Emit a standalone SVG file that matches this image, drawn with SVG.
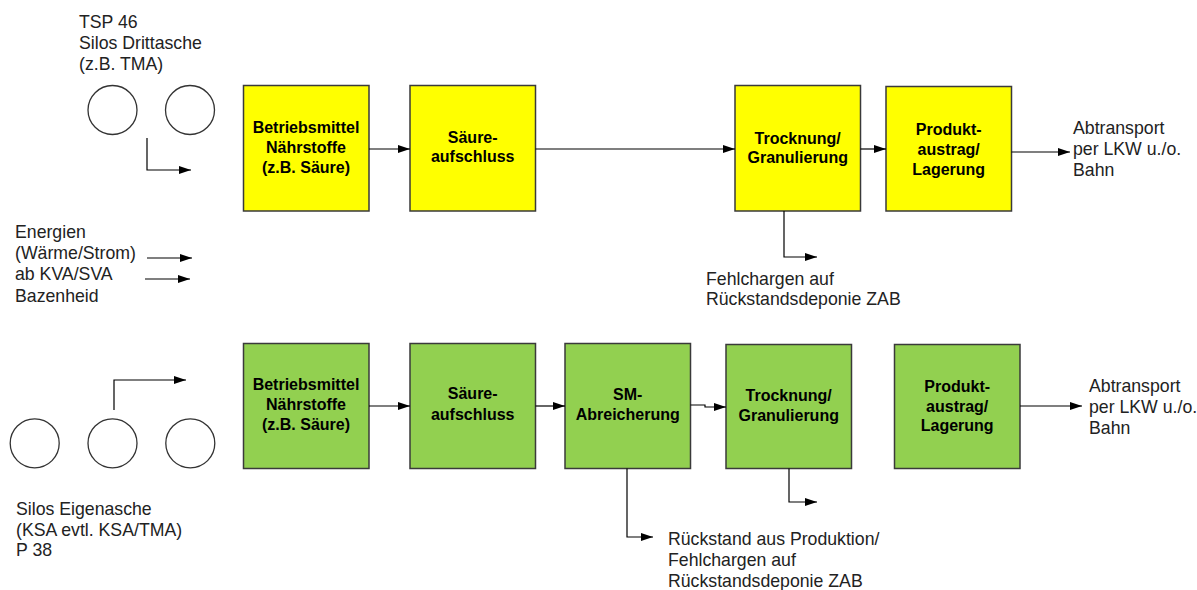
<svg xmlns="http://www.w3.org/2000/svg" width="1197" height="590" viewBox="0 0 1197 590">
<defs>
<marker id="ah" markerUnits="userSpaceOnUse" markerWidth="13" markerHeight="9" refX="12" refY="4" orient="auto">
<path d="M0,0 L12,4 L0,8 z" fill="#000"/>
</marker>
<style>
.y{fill:#FFFF00;stroke:#3a3a3a;stroke-width:1.5}
.g{fill:#92D050;stroke:#3a3a3a;stroke-width:1.5}
.c{fill:#fff;stroke:#333;stroke-width:1.3}
.b{font-family:"Liberation Sans",Arial,sans-serif;font-weight:bold;font-size:16px;fill:#000;text-anchor:middle}
.t{font-family:"Liberation Sans",Arial,sans-serif;font-size:17.7px;fill:#222}
.ln{fill:none;stroke:#000;stroke-width:1.2;marker-end:url(#ah)}
</style>
</defs>
<rect width="1197" height="590" fill="#fff"/>

<g id="silos-top">
<circle class="c" cx="112.5" cy="110" r="24.5"/>
<circle class="c" cx="190" cy="110" r="24.5"/>
<text class="t"><tspan x="79" y="28">TSP 46</tspan><tspan x="79" y="49">Silos Drittasche</tspan><tspan x="79" y="70">(z.B. TMA)</tspan></text>
</g>

<g id="energien">
<text class="t"><tspan x="15" y="237.5">Energien</tspan><tspan x="15" y="259">(Wärme/Strom)</tspan><tspan x="15" y="280">ab KVA/SVA</tspan><tspan x="15" y="301.5">Bazenheid</tspan></text>
</g>

<g id="top-betrieb"><rect class="y" x="243.5" y="85.5" width="125.5" height="125.5"/>
<text class="b"><tspan x="306" y="133">Betriebsmittel</tspan><tspan x="306" y="153">Nährstoffe</tspan><tspan x="306" y="173">(z.B. Säure)</tspan></text></g>

<g id="top-saeure"><rect class="y" x="410" y="85.5" width="125.5" height="125.5"/>
<text class="b"><tspan x="472.7" y="142.5">Säure-</tspan><tspan x="472.7" y="162">aufschluss</tspan></text></g>

<g id="top-trocknung"><rect class="y" x="735" y="85.5" width="125.5" height="125.5"/>
<text class="b"><tspan x="797.7" y="143.5">Trocknung/</tspan><tspan x="797.7" y="163">Granulierung</tspan></text></g>

<g id="top-produkt"><rect class="y" x="886" y="86.5" width="125.5" height="124.5"/>
<text class="b"><tspan x="948.7" y="134.5">Produkt-</tspan><tspan x="948.7" y="154.5">austrag/</tspan><tspan x="948.7" y="174.5">Lagerung</tspan></text></g>

<g id="top-abtransport">
<text class="t"><tspan x="1073" y="134">Abtransport</tspan><tspan x="1073" y="155">per LKW u./o.</tspan><tspan x="1073" y="176">Bahn</tspan></text>
</g>

<g id="top-fehl">
<text class="t"><tspan x="706" y="284.5">Fehlchargen auf</tspan><tspan x="706" y="305">Rückstandsdeponie ZAB</tspan></text>
</g>

<g id="silos-bottom">
<circle class="c" cx="34.7" cy="443.3" r="24.5"/>
<circle class="c" cx="112.5" cy="443.3" r="24.5"/>
<circle class="c" cx="190.3" cy="443.3" r="24.5"/>
<text class="t"><tspan x="16" y="514.5">Silos Eigenasche</tspan><tspan x="16" y="535.5">(KSA evtl. KSA/TMA)</tspan><tspan x="16" y="556">P 38</tspan></text>
</g>

<g id="bot-betrieb"><rect class="g" x="243.5" y="343.5" width="125.5" height="125"/>
<text class="b"><tspan x="306" y="390">Betriebsmittel</tspan><tspan x="306" y="410">Nährstoffe</tspan><tspan x="306" y="430">(z.B. Säure)</tspan></text></g>

<g id="bot-saeure"><rect class="g" x="410" y="343.5" width="125.5" height="125"/>
<text class="b"><tspan x="472.7" y="398.5">Säure-</tspan><tspan x="472.7" y="420">aufschluss</tspan></text></g>

<g id="bot-sm"><rect class="g" x="565" y="343.5" width="125.5" height="125"/>
<text class="b"><tspan x="627.7" y="399.5">SM-</tspan><tspan x="627.7" y="420">Abreicherung</tspan></text></g>

<g id="bot-trocknung"><rect class="g" x="726" y="344.5" width="125.5" height="124"/>
<text class="b"><tspan x="788.7" y="401">Trocknung/</tspan><tspan x="788.7" y="421">Granulierung</tspan></text></g>

<g id="bot-produkt"><rect class="g" x="894.5" y="344.5" width="125.5" height="124"/>
<text class="b"><tspan x="957.2" y="392">Produkt-</tspan><tspan x="957.2" y="412">austrag/</tspan><tspan x="957.2" y="431">Lagerung</tspan></text></g>

<g id="bot-abtransport">
<text class="t"><tspan x="1089" y="391.5">Abtransport</tspan><tspan x="1089" y="412.5">per LKW u./o.</tspan><tspan x="1089" y="433.5">Bahn</tspan></text>
</g>

<g id="bot-rueckstand">
<text class="t"><tspan x="668" y="545">Rückstand aus Produktion/</tspan><tspan x="668" y="566">Fehlchargen auf</tspan><tspan x="668" y="587">Rückstandsdeponie ZAB</tspan></text>
</g>

<g id="connectors">
<path class="ln" d="M147,138 V170 H191"/>
<path class="ln" d="M369,149 H410"/>
<path class="ln" d="M535.5,149 H735"/>
<path class="ln" d="M860.5,149 H886"/>
<path class="ln" d="M1011.5,152 H1070"/>
<path class="ln" d="M147,258 H192"/>
<path class="ln" d="M145,279 H190"/>
<path class="ln" d="M784,211 V257 H817"/>
<path class="ln" d="M114,410 V380 H186"/>
<path class="ln" d="M369,406 H410"/>
<path class="ln" d="M535.5,406 H565"/>
<path class="ln" d="M690.5,405 H705 V407 H726"/>
<path class="ln" d="M1020,406 H1082"/>
<path class="ln" d="M627,468.5 V537 H653"/>
<path class="ln" d="M789,468.5 V502 H817"/>
</g>
</svg>
